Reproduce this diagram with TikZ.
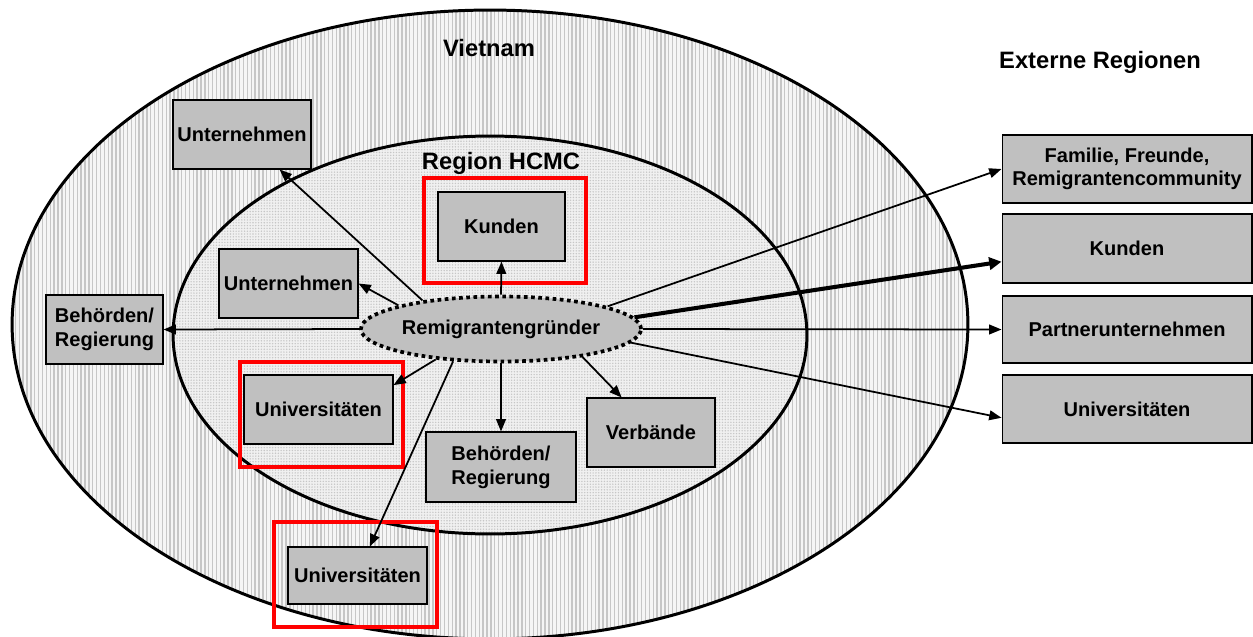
\documentclass[tikz,border=0pt]{standalone}
\usepackage{fontspec}
\setmainfont{Liberation Sans}
\usetikzlibrary{arrows.meta}
\usetikzlibrary{shapes.geometric}
\usetikzlibrary{patterns.meta}
\definecolor{boxgray}{RGB}{192,192,192}

\begin{document}
\begin{tikzpicture}[x = 0.02cm, y = -0.02cm,
	box/.style = {draw, semithick, fill = boxgray, align = center, inner sep = 1pt, font = \bfseries\fontsize{11.4}{13.5}\selectfont},
	redframe/.style = {draw = red, line width = 2.3pt, inner sep = 0pt},
	title/.style = {font = \bfseries\fontsize{13.5}{16}\selectfont},
	arr/.style = {-{Triangle[length = 7pt, width = 5.5pt]}, line width = 1pt},
	fatarr/.style = {-{Triangle[length = 7pt, width = 7pt]}, line width = 2.3pt}]
	\useasboundingbox (0,0) rectangle (1253,636);
	% Vietnam and Region HCMC
	\draw[line width = 1.7pt, preaction = {fill = gray!8}, pattern = {Lines[angle = 90, distance = 2.2pt, line width = 0.8pt]}, pattern color = gray!45] (490,324.5) ellipse [x radius = 9.56cm, y radius = 6.29cm];
	\draw[line width = 1.7pt, preaction = {fill = gray!12}, pattern = {Dots[distance = 1.6pt, radius = 0.45pt]}, pattern color = gray!45] (490,335) ellipse [x radius = 6.34cm, y radius = 3.98cm];
	\node[title] (vn) at (489,48) {Vietnam};
	\node[title] (hcmc) at (501,163) {Region HCMC};
	\node[title] (ext) at (1100,62) {Externe Regionen};

	\node[ellipse, draw, fill = boxgray, line width = 2.1pt, dash pattern = on 2.1pt off 2pt, minimum width = 5.26cm, minimum height = 1.3cm, inner sep = 0pt, font = \bfseries\fontsize{11.4}{13.5}\selectfont] (rem) at (501,329) {Remigrantengründer};

	\node[box, minimum width = 2.76cm, minimum height = 1.38cm] (unt1) at (242,134.5) {Unternehmen};
	\node[box, minimum width = 2.78cm, minimum height = 1.38cm] (unt2) at (288.5,283.5) {Unternehmen};
	\node[box, minimum width = 2.34cm, minimum height = 1.38cm] (beh1) at (104.5,329.5) {Behörden/\\Regierung};
	\node[box, minimum width = 2.54cm, minimum height = 1.38cm] (kun1) at (501.5,226.5) {Kunden};
	\node[redframe, minimum width = 3.24cm, minimum height = 2.1cm] (kunrahmen) at (505,230.5) {};
	\node[box, minimum width = 2.98cm, minimum height = 1.38cm] (uni1) at (318.5,409.5) {Universitäten};
	\node[redframe, minimum width = 3.26cm, minimum height = 2.1cm] (unirahmen1) at (321.5,414.5) {};
	\node[box, minimum width = 3.0cm, minimum height = 1.4cm] (beh2) at (501,467) {Behörden/\\Regierung};
	\node[box, minimum width = 2.56cm, minimum height = 1.38cm] (verb) at (651,432.5) {Verbände};
	\node[box, minimum width = 2.78cm, minimum height = 1.14cm] (uni2) at (357.5,575.5) {Universitäten};
	\node[redframe, minimum width = 3.26cm, minimum height = 2.1cm] (unirahmen2) at (355.5,574.5) {};

	\node[box, minimum width = 5.0cm, minimum height = 1.36cm] (fam) at (1127,169) {Familie, Freunde,\\Remigrantencommunity};
	\node[box, minimum width = 5.0cm, minimum height = 1.38cm] (kun2) at (1127,248.5) {Kunden};
	\node[box, minimum width = 5.0cm, minimum height = 1.34cm] (part) at (1127,329.5) {Partnerunternehmen};
	\node[box, minimum width = 5.0cm, minimum height = 1.36cm] (uni3) at (1127,409) {Universitäten};

	% connections
	\draw[arr] (rem.160) -- (unt1.317);
	\draw[arr] (rem.167) -- (unt2.east);
	\draw[arr] (rem.west) -- (beh1.east);
	\draw[arr] (rem.north) -- (kun1.south);
	\draw[arr] (rem.205) -- (uni1.18);
	\draw[arr] (rem.214) -- (uni2.67);
	\draw[arr] (rem.south) -- (beh2.north);
	\draw[arr] (rem.341) -- (verb.130);
	\draw[arr] (rem.12) -- (fam.west);
	\draw[fatarr] (rem.5) -- (kun2.186);
	\draw[arr] (rem.east) -- (part.west);
	\draw[arr] (rem.354) -- (uni3.184);
\end{tikzpicture}
\end{document}
